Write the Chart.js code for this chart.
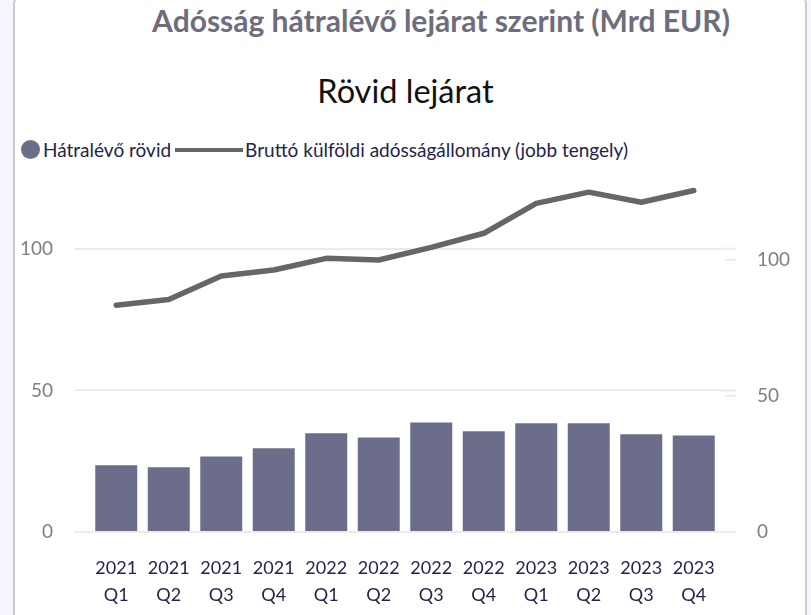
<!DOCTYPE html>
<html lang="hu">
<head>
<meta charset="utf-8">
<title>Adósság hátralévő lejárat szerint</title>
<script src="https://cdn.jsdelivr.net/npm/chart.js@4.4.1/dist/chart.umd.min.js"></script>
<style>
  html, body { margin: 0; padding: 0; }
  body {
    width: 811px; height: 615px; overflow: hidden; position: relative;
    background: #f5f6fd; font-family: Lato, "Open Sans", sans-serif;
  }
  .card {
    position: absolute; left: 13px; top: -6px; width: 790px; height: 640px;
    background: #fff; border: 2px solid #cbcbcb; border-radius: 10px;
  }
  .title {
    position: absolute; left: 0; width: 882px; top: 2px; text-align: center;
    font-size: 30px; font-weight: 700; color: #6d6d7e; white-space: nowrap;
  }
  .subtitle {
    position: absolute; left: 0; width: 811px; top: 71px; text-align: center;
    font-size: 32.5px; color: #111; white-space: nowrap;
  }
  #legend {
    position: absolute; left: 21px; top: 138px; display: flex; align-items: center;
    font-size: 19px; color: #24244a; white-space: nowrap;
  }
  #legend .item { display: flex; align-items: center; }
  #legend .dot { width: 19px; height: 19px; border-radius: 50%; margin-right: 3px; }
  #legend .dash { width: 68px; height: 4px; margin: 0 2px 0 4px; }
  #chart { position: absolute; left: 0; top: 165px; }
</style>
</head>
<body>
<div class="card"></div>
<div class="title">Adósság hátralévő lejárat szerint (Mrd EUR)</div>
<div class="subtitle">Rövid lejárat</div>
<div id="legend"></div>
<canvas id="chart" width="811" height="450"></canvas>
<script>
// negyedévek, két sorban
const quarters = [
  ['2021', 'Q1'], ['2021', 'Q2'], ['2021', 'Q3'], ['2021', 'Q4'],
  ['2022', 'Q1'], ['2022', 'Q2'], ['2022', 'Q3'], ['2022', 'Q4'],
  ['2023', 'Q1'], ['2023', 'Q2'], ['2023', 'Q3'], ['2023', 'Q4']
];
// hátralévő rövid lejáratú adósság (bal tengely)
const shortRemaining = [23.6, 22.9, 26.7, 29.6, 34.9, 33.4, 38.7, 35.6, 38.4, 38.4, 34.5, 34.1];
// bruttó külföldi adósságállomány (jobb tengely)
const grossDebt = [83.3, 85.4, 94.0, 96.2, 100.5, 99.9, 104.5, 109.7, 120.7, 124.8, 121.1, 125.4];
const leftTicks = [0, 50, 100];
const rightTicks = [0, 50, 100];

const barColor = '#6c6d8b';
const lineColor = '#666666';
const gridColor = '#ebebeb';

Chart.defaults.font.family = 'Lato, "Open Sans", sans-serif';

// rövid vonalkák a jobb tengelyen + a bal rács kinyújtása
const edgeTicks = {
  id: 'edgeTicks',
  beforeDatasetsDraw(chart) {
    const { ctx, chartArea, scales } = chart;
    const r = chartArea.right;
    ctx.save();
    ctx.strokeStyle = gridColor;
    ctx.lineWidth = 2;
    ctx.beginPath();
    scales.y.ticks.forEach(t => {
      const py = scales.y.getPixelForValue(t.value);
      ctx.moveTo(r, py);
      ctx.lineTo(r + 16, py);
    });
    scales.y1.ticks.forEach(t => {
      const py = scales.y1.getPixelForValue(t.value);
      ctx.moveTo(r + 5, py);
      ctx.lineTo(r + 16, py);
    });
    ctx.stroke();
    ctx.restore();
  }
};

const keepTicks = list => scale => {
  scale.ticks = scale.ticks.filter(t => list.includes(t.value));
};

// fix tengelyszélesség, a címkék ne tolják lejjebb a rajzterületet
const fixWidth = w => s => {
  s.width = w;
  s.paddingTop = 0;
  s.paddingBottom = 0;
};

const chart = new Chart(document.getElementById('chart'), {
  data: {
    labels: quarters,
    datasets: [
      {
        type: 'line',
        label: 'Bruttó külföldi adósságállomány (jobb tengely)',
        data: grossDebt,
        yAxisID: 'y1',
        borderColor: lineColor,
        backgroundColor: lineColor,
        borderWidth: 5.5,
        borderCapStyle: 'round',
        borderJoinStyle: 'round',
        pointRadius: 0,
        tension: 0,
        order: 0
      },
      {
        type: 'bar',
        label: 'Hátralévő rövid',
        data: shortRemaining,
        yAxisID: 'y',
        backgroundColor: barColor,
        categoryPercentage: 1,
        barPercentage: 0.8,
        order: 1
      }
    ]
  },
  options: {
    responsive: false,
    animation: false,
    layout: { padding: { top: 13, bottom: 8, left: 0, right: 0 } },
    plugins: {
      legend: { display: false },
      title: { display: false },
      tooltip: { enabled: false }
    },
    scales: {
      x: {
        offset: true,
        grid: { display: false, drawTicks: false },
        border: { display: false },
        ticks: { color: '#24244a', font: { size: 18, lineHeight: 1.5 }, padding: 23, maxRotation: 0, autoSkip: false },
        afterFit: s => { s.height = 75; }
      },
      y: {
        position: 'left',
        min: 0,
        max: 125,
        ticks: { stepSize: 50, color: '#7f7f7f', font: { size: 19 }, padding: 22 },
        afterBuildTicks: keepTicks(leftTicks),
        afterFit: fixWidth(90),
        grid: { color: gridColor, lineWidth: 2, tickLength: 15, drawTicks: true },
        border: { display: false }
      },
      y1: {
        position: 'right',
        min: 0,
        max: 130,
        ticks: { stepSize: 50, color: '#7f7f7f', font: { size: 19 }, padding: 37 },
        afterBuildTicks: keepTicks(rightTicks),
        afterFit: fixWidth(91),
        grid: { drawOnChartArea: false, drawTicks: false },
        border: { display: false }
      }
    }
  },
  plugins: [edgeTicks]
});

// jelmagyarázat a sorozatok színeiből
const legendEl = document.getElementById('legend');
chart.data.datasets.slice().reverse().forEach(ds => {
  const item = document.createElement('span');
  item.className = 'item';
  const mark = document.createElement('span');
  mark.className = ds.type === 'bar' ? 'dot' : 'dash';
  mark.style.background = ds.type === 'bar' ? ds.backgroundColor : ds.borderColor;
  const text = document.createElement('span');
  text.textContent = ds.label;
  item.appendChild(mark);
  item.appendChild(text);
  legendEl.appendChild(item);
});
</script>
</body>
</html>
